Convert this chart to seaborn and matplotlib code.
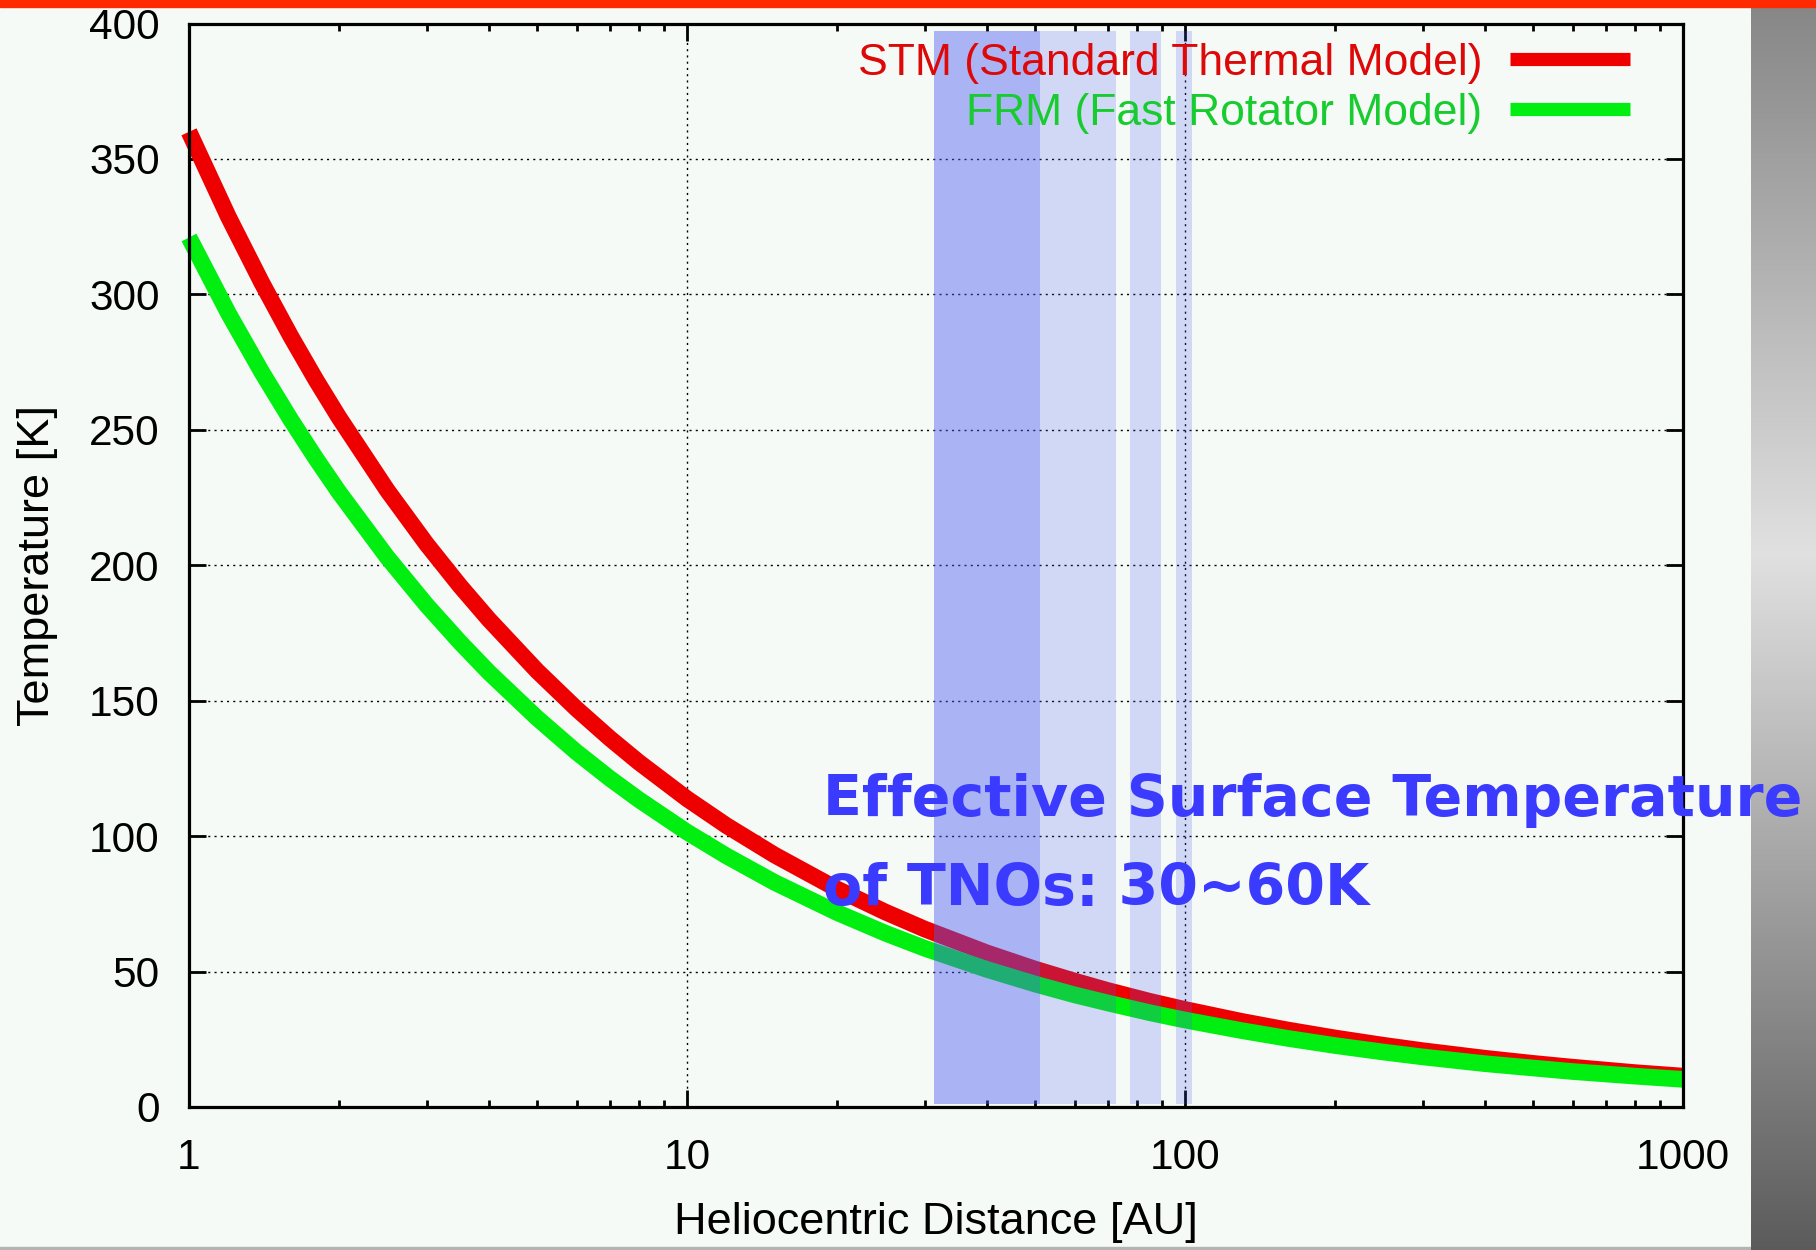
import numpy as np
import pandas as pd
import matplotlib
matplotlib.use("Agg")
import matplotlib.pyplot as plt
from matplotlib.patches import Rectangle
from matplotlib.ticker import LogLocator, FixedLocator, NullFormatter
import seaborn as sns

# ---------------- data ----------------
distance_au = [1, 1.2, 1.4, 1.6, 1.8, 2, 2.5, 3, 3.5, 4, 5, 6, 7, 8, 10, 12, 15, 20, 25, 30,
               40, 50, 60, 70, 85, 100, 130, 160, 200, 250, 300, 400, 500, 600, 800, 1000]
stm_temp = [360, 328.6, 304.3, 284.6, 268.3, 254.6, 227.7, 207.8, 192.4, 180, 161, 147,
            136.1, 127.3, 113.8, 103.9, 93, 80.5, 72, 65.7, 56.9, 50.9, 46.5, 43, 39, 36,
            31.6, 28.5, 25.5, 22.8, 20.8, 18, 16.1, 14.7, 12.7, 11.4]
frm_temp = [321, 293, 271.3, 253.8, 239.3, 227, 203, 185.3, 171.6, 160.5, 143.6, 131,
            121.3, 113.5, 101.5, 92.7, 82.9, 71.8, 64.2, 58.6, 50.8, 45.4, 41.4, 38.4, 34.8,
            32.1, 28.2, 25.4, 22.7, 20.3, 18.5, 16, 14.4, 13.1, 11.4, 10.2]

band_start = [31.3, 51.2, 77.6, 95.9]
band_end = [51.2, 72.7, 89.5, 103.3]
band_alpha = [0.44, 0.21, 0.21, 0.21]

x_ticks = [1, 10, 100, 1000]
x_tick_labels = ["1", "10", "100", "1000"]
y_ticks = [0, 50, 100, 150, 200, 250, 300, 350, 400]

stm_label = "STM (Standard Thermal Model)"
frm_label = "FRM (Fast Rotator Model)"
note_line1 = "Effective Surface Temperature"
note_line2 = "of TNOs: 30~60K"

df = pd.DataFrame({"dist": distance_au, "STM": stm_temp, "FRM": frm_temp})

# ---------------- style ----------------
sns.set_theme(style="ticks")
BG = "#f5faf7"
plt.rcParams["font.family"] = ["Liberation Sans", "DejaVu Sans"]
plt.rcParams["axes.facecolor"] = BG
plt.rcParams["figure.facecolor"] = BG

W, H = 1816, 1250
fig = plt.figure(figsize=(W / 100, H / 100), dpi=100)

# right gray gradient strip (decoration)
sax = fig.add_axes([1751 / W, 0, (W - 1751) / W, 1 - 7 / H], zorder=-5)
pos = np.array([0.0, 0.44, 1.0])
val = np.array([0.53, 0.88, 0.36])
yy = np.linspace(0, 1, 400)
grad = np.interp(yy, pos, val)[:, None]
sax.imshow(np.repeat(grad, 3, axis=1)[:, :, None].repeat(3, axis=2), aspect="auto",
           extent=[0, 1, 1, 0])
sax.set_axis_off()

# top red bar and bottom gray line
fig.add_artist(Rectangle((0, 1 - 7 / H), 1, 7 / H, transform=fig.transFigure,
                         color="#ff2a00", zorder=5))
fig.add_artist(Rectangle((0, 0), 1, 3 / H, transform=fig.transFigure,
                         color="#b4b4b4", zorder=-6))

ax = fig.add_axes([189 / W, 1 - 1107 / H, (1683 - 189) / W, (1107 - 23.5) / H], zorder=1)
ax.set_facecolor(BG)

LW = 12
sns.lineplot(data=df, x="dist", y="STM", ax=ax, color="#ee0000", lw=LW,
             label=stm_label, solid_capstyle="butt", solid_joinstyle="round",
             clip_on=False, zorder=3)
sns.lineplot(data=df, x="dist", y="FRM", ax=ax, color="#00ee10", lw=LW,
             label=frm_label, solid_capstyle="butt", solid_joinstyle="round",
             clip_on=False, zorder=4)

for s, e, a in zip(band_start, band_end, band_alpha):
    ax.axvspan(s, e, ymin=0.003, ymax=0.993, color="#4b5bf3", alpha=a, lw=0, zorder=5)

ax.set_xscale("log")
ax.set_xlim(1, 1000)
ax.set_ylim(0, 400)
ax.xaxis.set_major_locator(FixedLocator(x_ticks))
ax.set_xticklabels(x_tick_labels)
ax.xaxis.set_minor_locator(LogLocator(base=10, subs=np.arange(2, 10)))
ax.xaxis.set_minor_formatter(NullFormatter())
ax.set_yticks(y_ticks)

ax.grid(True, which="major", color="black", lw=1.0, ls=(0, (1.5, 3)), zorder=1)
ax.set_axisbelow(True)

for sp in ax.spines.values():
    sp.set_visible(True)
    sp.set_linewidth(2.3)
    sp.set_color("black")
    sp.set_zorder(6)

ax.tick_params(which="both", direction="in", top=True, right=True, color="black",
               width=2, labelsize=30.5, labelcolor="black")
ax.tick_params(which="major", length=12)
ax.tick_params(which="minor", length=5)
ax.tick_params(axis="x", pad=22)
ax.tick_params(axis="y", pad=21)

ax.set_xlabel("Heliocentric Distance [AU]", fontsize=32.5, color="black")
ax.set_ylabel("Temperature [K]", fontsize=32.5, color="black")
ax.xaxis.set_label_coords(0.5, -0.088)
ax.yaxis.set_label_coords(-0.088, 0.5)

leg = ax.legend(loc="upper right", bbox_to_anchor=(0.9645, 0.982), frameon=False,
                markerfirst=False, fontsize=32, handlelength=2.7, handletextpad=0.62,
                labelspacing=0.2, borderpad=0, borderaxespad=0)
for t, c in zip(leg.get_texts(), ["#dd0808", "#18cc30"]):
    t.set_color(c)
for ln in leg.get_lines():
    ln.set_linewidth(9.5)
    ln.set_solid_capstyle("butt")
leg.set_zorder(7)

ax.text(18.76, 107.4, note_line1, color="#3b3bff", fontsize=41, fontweight="bold",
        family="DejaVu Sans", va="baseline", ha="left", clip_on=False, zorder=10)
ax.text(18.76, 74.6, note_line2, color="#3b3bff", fontsize=41, fontweight="bold",
        family="DejaVu Sans", va="baseline", ha="left", clip_on=False, zorder=10)

fig.savefig("out.png", dpi=100, facecolor=BG)
